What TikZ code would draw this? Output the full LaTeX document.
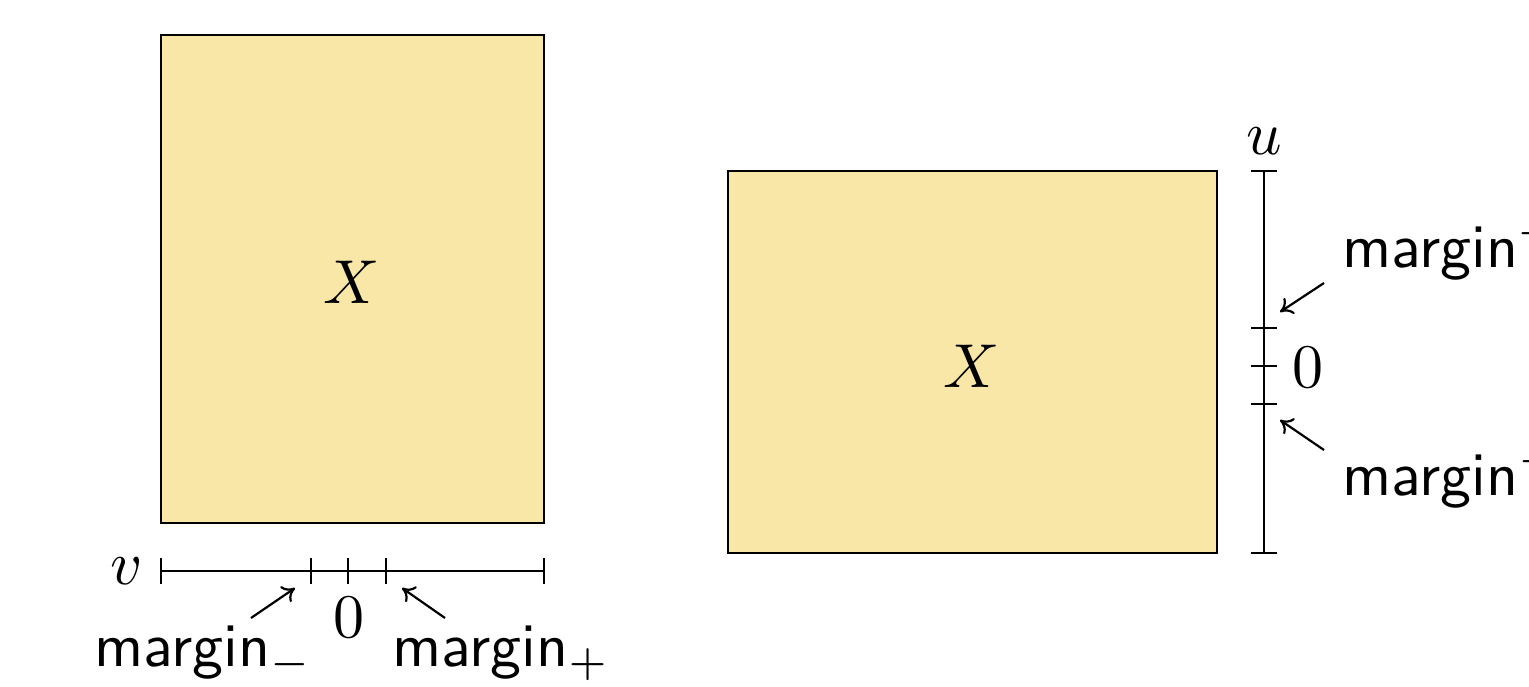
\documentclass[tikz,border=0pt]{standalone}
\usetikzlibrary{arrows.meta}
\definecolor{boxfill}{RGB}{249,231,168}
\begin{document}
\begin{tikzpicture}[x=1pt,y=-1pt,
  lw/.style={line width=2.2pt},
  box/.style={lw, draw=black, fill=boxfill},
  lbl/.style={scale=6.2, inner sep=0pt},
  ptr/.style={lw, -{To[length=12pt,width=19pt]}},
  tickmark/.style={lw}]
\useasboundingbox (0,0) rectangle (1529,687);
% left box
\draw[box] (161,35) rectangle (544,523);
\node[lbl] (X1) at (352,282) {$X$};
% left axis
\coordinate (vs) at (161,571);
\coordinate (ve) at (544,571);
\coordinate (vm) at (311,571);
\coordinate (v0) at (348,571);
\coordinate (vp) at (386,571);
\draw[lw] (vs) -- (ve);
\foreach \c in {vs,ve,vm,v0,vp} \draw[tickmark] ([yshift=-13pt]\c) -- ([yshift=13pt]\c);
\node[lbl] (v) at (127,571) {$v$};
\node[lbl] (z1) at (348.5,618) {$0$};
\node[lbl, anchor=base west] (mm) at (93,666) {\textsf{margin}$_-$};
\node[lbl, anchor=base west] (mp) at (391,666) {\textsf{margin}$_+$};
\coordinate (a1t) at (251,618);
\coordinate (a1h) at (295,588);
\coordinate (a2t) at (445,618);
\coordinate (a2h) at (402,588);
\draw[ptr] (a1t) -- (a1h);
\draw[ptr] (a2t) -- (a2h);
% right box
\draw[box] (728,171) rectangle (1217,553);
\node[lbl] (X2) at (972,366) {$X$};
% right axis
\coordinate (us) at (1264,553);
\coordinate (ue) at (1264,171);
\coordinate (um) at (1264,404);
\coordinate (u0) at (1264,366);
\coordinate (up) at (1264,328);
\draw[lw] (us) -- (ue);
\foreach \c in {us,ue,um,u0,up} \draw[tickmark] ([xshift=-13pt]\c) -- ([xshift=13pt]\c);
\node[lbl] (u) at (1264,141) {$u$};
\node[lbl] (z2) at (1308,368) {$0$};
\node[lbl, anchor=base west] (mup) at (1341,267) {\textsf{margin}$^+$};
\node[lbl, anchor=base west] (mum) at (1341,495) {\textsf{margin}$^-$};
\coordinate (a3t) at (1324,283);
\coordinate (a3h) at (1280,312);
\coordinate (a4t) at (1324,450);
\coordinate (a4h) at (1280,420);
\draw[ptr] (a3t) -- (a3h);
\draw[ptr] (a4t) -- (a4h);
\end{tikzpicture}
\end{document}
